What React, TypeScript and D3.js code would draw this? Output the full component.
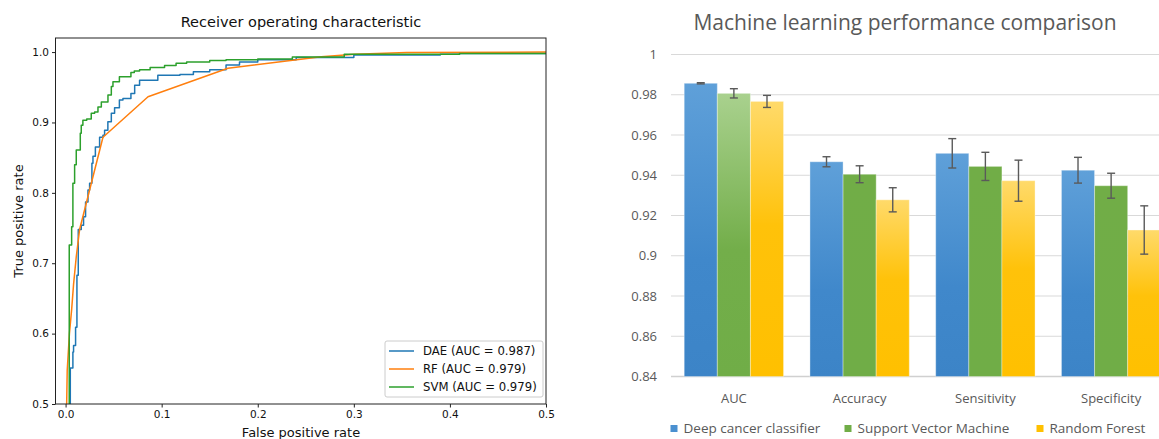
import React, { useEffect, useRef } from 'react';
import * as d3 from 'd3';

const W = 1159;
const H = 439;

// ROC corners [fpr, tpr]
const daeRoc = [
  [0.0049, 0.45], [0.0049, 0.551], [0.0076, 0.551], [0.0076, 0.574], [0.0083, 0.574], [0.0083, 0.583],
  [0.0104, 0.583], [0.0104, 0.609], [0.0118, 0.609], [0.0118, 0.683], [0.0132, 0.683], [0.0132, 0.748],
  [0.0163, 0.748], [0.0163, 0.754], [0.0187, 0.754], [0.0187, 0.766], [0.0208, 0.766], [0.0208, 0.787],
  [0.0233, 0.787], [0.0233, 0.804], [0.025, 0.804], [0.025, 0.8135], [0.0274, 0.8135], [0.0274, 0.842],
  [0.0285, 0.842], [0.0285, 0.852], [0.031, 0.852], [0.031, 0.865], [0.0354, 0.865], [0.0354, 0.879],
  [0.0389, 0.879], [0.0389, 0.882], [0.0406, 0.882], [0.0406, 0.889], [0.044, 0.889], [0.044, 0.901],
  [0.0476, 0.901], [0.0476, 0.913], [0.051, 0.913], [0.051, 0.921], [0.056, 0.921], [0.056, 0.932],
  [0.0597, 0.932], [0.0597, 0.934], [0.068, 0.934], [0.068, 0.941], [0.0719, 0.941], [0.0719, 0.953],
  [0.077, 0.953], [0.077, 0.96], [0.096, 0.96], [0.096, 0.967], [0.119, 0.967], [0.119, 0.968],
  [0.133, 0.968], [0.133, 0.972], [0.15, 0.972], [0.15, 0.975], [0.167, 0.975], [0.167, 0.9815],
  [0.181, 0.9815], [0.181, 0.986], [0.2, 0.986], [0.2, 0.989], [0.24, 0.989], [0.24, 0.9924],
  [0.3, 0.9924], [0.3, 0.9957], [0.39, 0.9957], [0.39, 0.997], [0.41, 0.997], [0.41, 0.998], [0.5, 0.998],
];
const rfRoc = [
  [0.0005, 0.45], [0.0017, 0.548], [0.004, 0.6], [0.0063, 0.634], [0.0083, 0.67], [0.0111, 0.709],
  [0.0146, 0.748], [0.0389, 0.879], [0.0858, 0.9366], [0.169, 0.977], [0.266, 0.9934], [0.301, 0.997],
  [0.355, 0.9995], [0.5, 1.0],
];
const svmRoc = [
  [0.0038, 0.4], [0.0038, 0.726], [0.0063, 0.726], [0.0063, 0.752], [0.0076, 0.752], [0.0076, 0.8135],
  [0.0094, 0.8135], [0.0094, 0.84], [0.0111, 0.84], [0.0111, 0.861], [0.0153, 0.861], [0.0153, 0.8845],
  [0.0163, 0.8845], [0.0163, 0.896], [0.018, 0.896], [0.018, 0.903], [0.022, 0.903], [0.022, 0.905],
  [0.0267, 0.905], [0.0267, 0.913], [0.0302, 0.913], [0.0302, 0.915], [0.0337, 0.915], [0.0337, 0.922],
  [0.0372, 0.922], [0.0372, 0.929], [0.0441, 0.929], [0.0441, 0.939], [0.0476, 0.939], [0.0476, 0.951],
  [0.0493, 0.951], [0.0493, 0.958], [0.056, 0.958], [0.056, 0.965], [0.068, 0.965], [0.068, 0.971],
  [0.0715, 0.971], [0.0715, 0.973], [0.077, 0.973], [0.077, 0.975], [0.088, 0.975], [0.088, 0.978],
  [0.103, 0.978], [0.103, 0.981], [0.115, 0.981], [0.115, 0.984], [0.126, 0.984], [0.126, 0.986],
  [0.15, 0.986], [0.15, 0.988], [0.167, 0.988], [0.167, 0.989], [0.2, 0.989], [0.2, 0.99],
  [0.236, 0.99], [0.236, 0.993], [0.29, 0.993], [0.29, 0.997], [0.41, 0.997], [0.41, 0.998], [0.5, 0.998],
];
const rocLabels = ['DAE (AUC = 0.987)', 'RF (AUC = 0.979)', 'SVM (AUC = 0.979)'];
const rocColors = ['#1f77b4', '#ff7f0e', '#2ca02c'];
const rocXTicks = [0, 0.1, 0.2, 0.3, 0.4, 0.5];
const rocYTicks = [0.5, 0.6, 0.7, 0.8, 0.9, 1.0];

// bar chart on the right
const metrics = ['AUC', 'Accuracy', 'Sensitivity', 'Specificity'];
const models = ['Deep cancer classifier', 'Support Vector Machine', 'Random Forest'];
const dccValues = [0.9857, 0.9467, 0.9509, 0.9425];
const svmValues = [0.9807, 0.9405, 0.9444, 0.9348];
const rfValues = [0.9767, 0.9278, 0.9373, 0.9128];
const dccErr = [0.0003, 0.0025, 0.0073, 0.0064];
const svmErr = [0.0023, 0.0042, 0.007, 0.0062];
const rfErr = [0.003, 0.006, 0.0102, 0.012];
const barTicks = [0.84, 0.86, 0.88, 0.9, 0.92, 0.94, 0.96, 0.98, 1];

const DEJAVU = '"DejaVu Sans", sans-serif';
const OFFICE = '"Open Sans", "Noto Sans", sans-serif';

export default function App() {
  const ref = useRef<SVGSVGElement>(null);

  useEffect(() => {
    const svg = d3.select(ref.current);
    svg.selectAll('*').remove();
    const defs = svg.append('defs');

    // ---------- left: ROC ----------
    const x = d3.scaleLinear().domain([-0.0105, 0.5]).range([55.5, 546]);
    const y = d3.scaleLinear().domain([0.5, 1.02]).range([404, 38]);

    defs.append('clipPath').attr('id', 'rocclip')
      .append('rect')
      .attr('x', x.range()[0]).attr('y', y.range()[1])
      .attr('width', x.range()[1] - x.range()[0])
      .attr('height', y.range()[0] - y.range()[1]);

    const roc = svg.append('g');
    const line = d3.line<number[]>().x(d => x(d[0])).y(d => y(d[1]));
    const curves = [daeRoc, rfRoc, svmRoc];
    const lines = roc.append('g').attr('clip-path', 'url(#rocclip)');
    curves.forEach((c, i) => {
      lines.append('path')
        .attr('d', line(c))
        .attr('fill', 'none')
        .attr('stroke', rocColors[i])
        .attr('stroke-width', 1.5)
        .attr('stroke-linejoin', 'round');
    });

    roc.append('rect')
      .attr('x', x.range()[0]).attr('y', y.range()[1])
      .attr('width', x.range()[1] - x.range()[0])
      .attr('height', y.range()[0] - y.range()[1])
      .attr('fill', 'none').attr('stroke', '#222').attr('stroke-width', 1);

    const xAxis = roc.append('g')
      .attr('transform', `translate(0,${y.range()[0]})`)
      .call(d3.axisBottom(x).tickValues(rocXTicks).tickSize(3.5).tickPadding(3).tickFormat(d3.format('.1f')));
    const yAxis = roc.append('g')
      .attr('transform', `translate(${x.range()[0]},0)`)
      .call(d3.axisLeft(y).tickValues(rocYTicks).tickSize(3.5).tickPadding(3).tickFormat(d3.format('.1f')));
    [xAxis, yAxis].forEach(a => {
      a.select('.domain').remove();
      a.attr('font-family', DEJAVU).attr('font-size', 10.5);
      a.selectAll('line').attr('stroke', '#222');
      a.selectAll('text').attr('fill', '#111');
    });

    roc.append('text')
      .attr('x', 301).attr('y', 26.5)
      .attr('text-anchor', 'middle')
      .attr('font-family', DEJAVU).attr('font-size', 14.5).attr('fill', '#111')
      .text('Receiver operating characteristic');
    roc.append('text')
      .attr('x', 301).attr('y', 437)
      .attr('text-anchor', 'middle')
      .attr('font-family', DEJAVU).attr('font-size', 13).attr('fill', '#111')
      .text('False positive rate');
    roc.append('text')
      .attr('transform', `translate(22.5,221) rotate(-90)`)
      .attr('text-anchor', 'middle')
      .attr('font-family', DEJAVU).attr('font-size', 13).attr('fill', '#111')
      .text('True positive rate');

    const leg = roc.append('g').attr('transform', 'translate(385,341)');
    leg.append('rect')
      .attr('width', 158).attr('height', 56).attr('rx', 2)
      .attr('fill', 'white').attr('fill-opacity', 0.8)
      .attr('stroke', '#cccccc').attr('stroke-width', 1);
    rocLabels.forEach((lab, i) => {
      const cy = 10 + i * 18;
      leg.append('line')
        .attr('x1', 4).attr('x2', 29).attr('y1', cy).attr('y2', cy)
        .attr('stroke', rocColors[i]).attr('stroke-width', 1.5);
      leg.append('text')
        .attr('x', 38).attr('y', cy).attr('dy', '0.35em')
        .attr('font-family', DEJAVU).attr('font-size', 11.7).attr('fill', '#111')
        .text(lab);
    });

    // ---------- right: grouped bars ----------
    const values = [dccValues, svmValues, rfValues];
    const errs = [dccErr, svmErr, rfErr];
    const x0 = d3.scaleBand().domain(metrics).range([671, 1174]).paddingInner(0.21).paddingOuter(0.105);
    const x1 = d3.scaleBand().domain(models).range([0, x0.bandwidth()]);
    const yb = d3.scaleLinear().domain([0.84, 1]).range([376.5, 54.5]);

    const gradStops = [
      [['0%', '#5fa0d9'], ['60%', '#4088cb'], ['100%', '#3c84c7']],
      [['0%', '#71ad47'], ['100%', '#70ad47']],
      [['0%', '#ffda6a'], ['45%', '#ffc20a'], ['100%', '#ffc000']],
    ];
    const aucGreen = [['0%', '#a9d18e'], ['55%', '#73ae4a'], ['100%', '#70ad47']];
    models.forEach((_, i) => {
      metrics.forEach((__, j) => {
        const stops = i === 1 && j === 0 ? aucGreen : gradStops[i];
        const gr = defs.append('linearGradient').attr('id', `bar-${i}-${j}`)
          .attr('x1', 0).attr('y1', 0).attr('x2', 0).attr('y2', 1);
        stops.forEach(s => gr.append('stop').attr('offset', s[0]).attr('stop-color', s[1]));
      });
    });

    const bars = svg.append('g');
    bars.selectAll('line.grid').data(barTicks).join('line')
      .attr('class', 'grid')
      .attr('x1', 671).attr('x2', 1174)
      .attr('y1', d => yb(d)).attr('y2', d => yb(d))
      .attr('stroke', d => (d === 0.84 ? '#d0d0d0' : '#d9d9d9'))
      .attr('stroke-width', d => (d === 0.84 ? 1.5 : 1.2));
    bars.selectAll('text.ytick').data(barTicks).join('text')
      .attr('class', 'ytick')
      .attr('x', 657).attr('y', d => yb(d)).attr('dy', '0.35em')
      .attr('text-anchor', 'end')
      .attr('font-family', OFFICE).attr('font-size', 13).attr('fill', '#595959')
      .text(d => String(+d.toFixed(2)));

    models.forEach((m, i) => {
      metrics.forEach((c, j) => {
        const v = values[i][j];
        const bx = (x0(c) as number) + (x1(m) as number);
        bars.append('rect')
          .attr('x', bx).attr('y', yb(v))
          .attr('width', x1.bandwidth()).attr('height', yb(0.84) - yb(v))
          .attr('fill', `url(#bar-${i}-${j})`)
          .attr('stroke', 'rgba(255,255,255,0.35)').attr('stroke-width', 1);
      });
    });
    models.forEach((m, i) => {
      metrics.forEach((c, j) => {
        const v = values[i][j];
        const e = errs[i][j];
        const cx = (x0(c) as number) + (x1(m) as number) + x1.bandwidth() / 2;
        const eg = bars.append('g').attr('stroke', '#5a5a5a').attr('stroke-width', 1.4);
        eg.append('line').attr('x1', cx).attr('x2', cx).attr('y1', yb(v - e)).attr('y2', yb(v + e));
        eg.append('line').attr('x1', cx - 4).attr('x2', cx + 4).attr('y1', yb(v - e)).attr('y2', yb(v - e));
        eg.append('line').attr('x1', cx - 4).attr('x2', cx + 4).attr('y1', yb(v + e)).attr('y2', yb(v + e));
      });
    });

    bars.selectAll('text.cat').data(metrics).join('text')
      .attr('class', 'cat')
      .attr('x', d => (x0(d) as number) + x0.bandwidth() / 2)
      .attr('y', 403)
      .attr('text-anchor', 'middle')
      .attr('font-family', OFFICE).attr('font-size', 13).attr('fill', '#595959')
      .text(d => d);

    const swatch = ['#4a90d0', '#70ad47', '#ffc000'];
    const legendX = [670.5, 844.5, 1036.5];
    models.forEach((m, i) => {
      bars.append('rect')
        .attr('x', legendX[i]).attr('y', 425).attr('width', 7).attr('height', 7)
        .attr('fill', swatch[i]);
      bars.append('text')
        .attr('x', legendX[i] + 13).attr('y', 432.5)
        .attr('font-family', OFFICE).attr('font-size', 13.5).attr('fill', '#595959')
        .text(m);
    });

    bars.append('text')
      .attr('x', 905).attr('y', 29.5)
      .attr('text-anchor', 'middle')
      .attr('font-family', OFFICE).attr('font-size', 21).attr('fill', '#595959')
      .text('Machine learning performance comparison');
  }, []);

  return (
    <>
      <style>{'body{margin:0}'}</style>
      <svg ref={ref} width={W} height={H} style={{ display: 'block', background: '#fff' }} />
    </>
  );
}
